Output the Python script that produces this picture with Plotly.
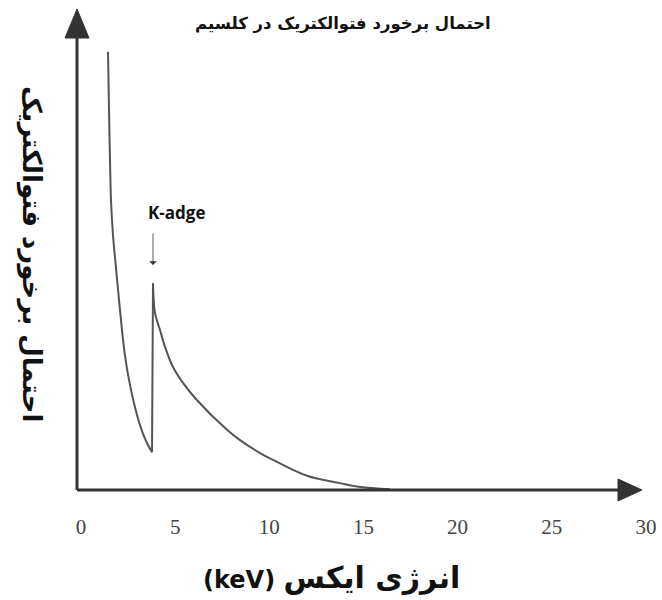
import plotly.graph_objects as go

# Photoelectric interaction probability in calcium (arbitrary units) vs X-ray energy (keV)
energy_low = [1.434, 1.487, 1.540, 1.593, 1.699, 1.859, 2.018, 2.177, 2.337, 2.549, 2.815,
              3.133, 3.452, 3.771]
prob_low = [101.9, 88.4, 76.7, 67.4, 59.3, 51.6, 44.2, 37.2, 31.2, 25.6, 20.2,
            15.1, 11.4, 8.8]

energy_high = [3.824, 3.930, 4.195, 4.461, 4.886, 5.417, 6.054, 7.753, 8.444, 9.506,
               10.20, 12.00, 13.75, 14.82, 16.41]
prob_high = [48.1, 41.2, 37.2, 33.3, 28.6, 24.9, 21.4, 14.0, 11.6, 8.6,
             7.0, 3.3, 1.6, 0.7, 0.2]

tick_vals = [0, 5, 10, 15, 20, 25, 30]
tick_text = ["0", "5", "10", "15", "20", "25", "30"]

title_text = "احتمال برخورد فتوالکتریک در کلسیم"
x_title_ar = "انرژی ایکس"
x_title_unit = "(keV)"
y_title = "احتمال برخورد فتوالکتریک"

line_color = "#555555"
axis_color = "#333333"

fig = go.Figure()
fig.add_trace(go.Scatter(x=energy_low, y=prob_low, mode="lines",
                         line=dict(color=line_color, width=2, shape="spline", smoothing=1.0),
                         hoverinfo="skip", showlegend=False))
fig.add_trace(go.Scatter(x=[energy_low[-1], energy_high[0]], y=[prob_low[-1], prob_high[0]],
                         mode="lines", line=dict(color=line_color, width=2),
                         hoverinfo="skip", showlegend=False))
fig.add_trace(go.Scatter(x=energy_high, y=prob_high, mode="lines",
                         line=dict(color=line_color, width=2, shape="spline", smoothing=1.0),
                         hoverinfo="skip", showlegend=False))

# pixel/data scales (page pixels)
PX0, PXS = 81.0, 18.83     # page x of energy 0, px per keV
PY0, PYS = 490.0, 4.3      # page y of prob 0, px per unit

def dx(px):
    return (px - PX0) / PXS

def dy(py):
    return (PY0 - py) / PYS

# axis geometry
x0 = dx(77)
y_top_line = dy(38)
y_tip = dy(9)
x_end_line = dx(618)
x_tip = dx(642)
hw_y = 12 / PXS
hh_x = 11 / PYS

shapes = [
    dict(type="line", x0=x0, y0=0, x1=x0, y1=y_top_line, line=dict(color=axis_color, width=3)),
    dict(type="line", x0=x0, y0=0, x1=x_end_line, y1=0, line=dict(color=axis_color, width=3)),
    dict(type="path", path=f"M {x0-hw_y},{y_top_line} L {x0+hw_y},{y_top_line} L {x0},{y_tip} Z",
         fillcolor=axis_color, line=dict(color=axis_color, width=1)),
    dict(type="path", path=f"M {x_end_line},{-hh_x} L {x_end_line},{hh_x} L {x_tip},0 Z",
         fillcolor=axis_color, line=dict(color=axis_color, width=1)),
]

W, H = 662, 600
ml, mr, mt, mb = 60, 10, 5, 90
pw, ph = W - ml - mr, H - mt - mb

def paper_x(px):
    return (px - ml) / pw

def paper_y(py):
    return 1 - (py - mt) / ph

annotations = [
    dict(text=f"<b>{title_text}</b>", x=paper_x(343), y=paper_y(24), xref="paper", yref="paper",
         xanchor="center", yanchor="middle", showarrow=False,
         font=dict(family="DejaVu Sans", size=16.5, color="#111111")),
    dict(text=f"<b>{x_title_unit} <span style='font-size:30px'>{x_title_ar}</span></b>",
         x=paper_x(331), y=paper_y(577), xref="paper", yref="paper",
         xanchor="center", yanchor="middle", showarrow=False,
         font=dict(family="DejaVu Sans", size=24, color="#111111")),
    dict(text=f"<b>{y_title}</b>", x=paper_x(32), y=paper_y(254), xref="paper", yref="paper",
         xanchor="center", yanchor="middle", showarrow=False,
         textangle=90, font=dict(family="DejaVu Sans", size=26, color="#111111")),
    dict(text="<b>K-adge</b>", x=dx(176), y=dy(212), xref="x", yref="y",
         showarrow=False, font=dict(family="Open Sans", size=17, color="#111111")),
    dict(text="", x=dx(153), y=dy(265), ax=dx(153), ay=dy(232),
         xref="x", yref="y", axref="x", ayref="y",
         showarrow=True, arrowhead=1, arrowsize=1.6, arrowwidth=0.8, arrowcolor="#333333"),
]

fig.update_layout(
    width=W, height=H,
    margin=dict(l=ml, r=mr, t=mt, b=mb),
    paper_bgcolor="white", plot_bgcolor="white",
    xaxis=dict(range=[dx(ml), dx(W - mr)], showgrid=False, zeroline=False,
               showline=False, tickvals=tick_vals, ticktext=tick_text, ticks="",
               tickfont=dict(family="Liberation Serif", size=21, color="#444444"),
               ticklabelstandoff=2),
    yaxis=dict(range=[dy(H - mb), dy(mt)], showgrid=False, zeroline=False,
               showline=False, showticklabels=False, ticks=""),
    shapes=shapes,
    annotations=annotations,
)

fig.write_html("out.html", config={"displayModeBar": False},
               post_script="document.body.style.margin='0';document.body.style.overflow='hidden';")
